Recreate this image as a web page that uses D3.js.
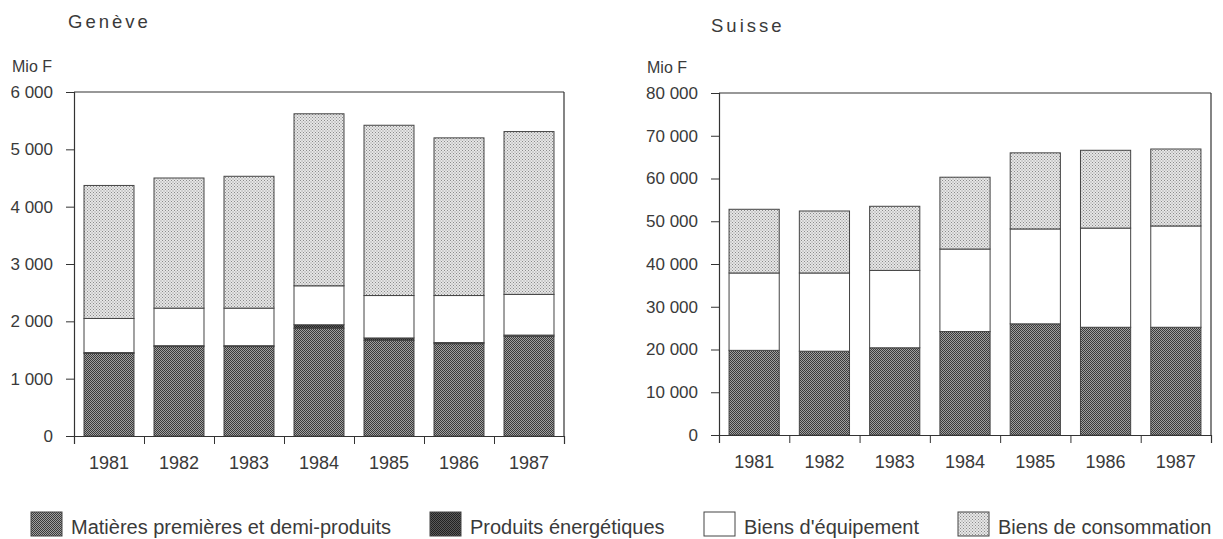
<!DOCTYPE html>
<html><head><meta charset="utf-8">
<script src="https://cdn.jsdelivr.net/npm/d3@7"></script>
<style>
body{margin:0;background:#fff;}
svg{display:block;font-family:"Liberation Sans",Arial,Helvetica,sans-serif;}
</style></head>
<body>
<svg id="c" width="1223" height="539"></svg>
<script>
const years = ["1981","1982","1983","1984","1985","1986","1987"];
const seriesKeys = ["mat","energy","equip","cons"];
const seriesNames = ["Matières premières et demi-produits","Produits énergétiques","Biens d'équipement","Biens de consommation"];

// Genève (Mio F)
const geMat    = [1440, 1560, 1560, 1880, 1670, 1610, 1740];
const geEnergy = [15, 15, 15, 60, 40, 20, 20];
const geEquip  = [595, 655, 655, 680, 740, 820, 710];
const geCons   = [2320, 2270, 2300, 3000, 2970, 2750, 2840];
const geTicks  = [0,1000,2000,3000,4000,5000,6000];

// Suisse (Mio F)
const chMat    = [19800, 19600, 20400, 24200, 26000, 25200, 25200];
const chEnergy = [0, 0, 0, 0, 0, 0, 0];
const chEquip  = [18100, 18300, 18100, 19300, 22200, 23200, 23700];
const chCons   = [14900, 14500, 15000, 16800, 17800, 18200, 18000];
const chTicks  = [0,10000,20000,30000,40000,50000,60000,70000,80000];

const svg = d3.select("#c");
const defs = svg.append("defs");
function dotPattern(id, bg, fg, size){
  const p = defs.append("pattern").attr("id",id).attr("patternUnits","userSpaceOnUse")
    .attr("width",size).attr("height",size);
  p.append("rect").attr("width",size).attr("height",size).attr("fill",bg);
  p.append("rect").attr("x",0).attr("y",0).attr("width",1).attr("height",1).attr("fill",fg);
  p.append("rect").attr("x",size/2).attr("y",size/2).attr("width",1).attr("height",1).attr("fill",fg);
}
dotPattern("pMat","#a0a0a0","#3a3a3a",2);
dotPattern("pEnergy","#5a5a5a","#222",2);
dotPattern("pCons","#e6e6e6","#8a8a8a",3);
const fills = {mat:"url(#pMat)",energy:"url(#pEnergy)",equip:"#ffffff",cons:"url(#pCons)"};
const textCol = "#3a3a3a";
const fmt = v => d3.format(",")(v).replace(/,/g," ");

function drawPanel(cfg){
  const g = svg.append("g");
  const rows = years.map((y,i)=>({year:y, mat:cfg.mat[i], energy:cfg.energy[i], equip:cfg.equip[i], cons:cfg.cons[i]}));
  const stack = d3.stack().keys(seriesKeys)(rows);
  const x = d3.scaleBand().domain(years).range([cfg.x0,cfg.x1]).paddingInner(0.286).paddingOuter(0.143);
  const y = d3.scaleLinear().domain([0,cfg.max]).range([cfg.y0,cfg.y1]);

  g.append("line").attr("x1",cfg.x0).attr("x2",cfg.x1).attr("y1",y(cfg.max)).attr("y2",y(cfg.max)).attr("stroke","#333").attr("stroke-width",1.2);
  g.append("line").attr("x1",cfg.x1).attr("x2",cfg.x1).attr("y1",y(cfg.max)).attr("y2",y(0)).attr("stroke","#333").attr("stroke-width",1.2);

  stack.forEach(s=>{
    g.append("g").selectAll("rect").data(s.filter(d=>d[1]-d[0]>0)).join("rect")
      .attr("x",d=>x(d.data.year)).attr("width",x.bandwidth())
      .attr("y",d=>y(d[1])).attr("height",d=>y(d[0])-y(d[1]))
      .attr("fill",fills[s.key]).attr("stroke","#444").attr("stroke-width",1);
  });

  const ya = g.append("g").attr("transform",`translate(${cfg.x0},0)`)
    .call(d3.axisLeft(y).tickValues(cfg.ticks).tickFormat(fmt).tickSize(8).tickPadding(13));
  ya.select(".domain").attr("stroke","#333").attr("stroke-width",1.2);
  ya.selectAll(".tick line").attr("stroke","#333");
  ya.selectAll("text").attr("font-size",17).attr("fill",textCol).attr("font-family","Liberation Sans, Arial, sans-serif");

  const bounds = d3.range(years.length+1).map(i=>cfg.x0 + i*x.step());
  const bx = d3.scaleLinear().domain([cfg.x0,cfg.x1]).range([cfg.x0,cfg.x1]);
  const xa = g.append("g").attr("transform",`translate(0,${cfg.y0})`)
    .call(d3.axisBottom(bx).tickValues(bounds).tickFormat("").tickSize(8));
  xa.select(".domain").attr("stroke","#333").attr("stroke-width",1.2);
  xa.selectAll(".tick line").attr("stroke","#333");
  const xl = g.append("g").attr("transform",`translate(0,${cfg.y0})`)
    .call(d3.axisBottom(x).tickSize(0).tickPadding(20));
  xl.select(".domain").remove();
  xl.selectAll("text").attr("font-size",18).attr("fill",textCol).attr("font-family","Liberation Sans, Arial, sans-serif");

  g.append("text").attr("x",cfg.titleX).attr("y",cfg.titleY).text(cfg.title)
    .attr("font-size",18.5).attr("letter-spacing",3).attr("fill",textCol);
  g.append("text").attr("x",cfg.unitX).attr("y",cfg.unitY).text("Mio F")
    .attr("font-size",16).attr("fill",textCol);
}

drawPanel({title:"Genève",titleX:68,titleY:28,unitX:12,unitY:72,x0:74,x1:564,y0:436,y1:92,max:6000,ticks:geTicks,
  mat:geMat,energy:geEnergy,equip:geEquip,cons:geCons});
drawPanel({title:"Suisse",titleX:711,titleY:32,unitX:647,unitY:73,x0:719,x1:1211,y0:435,y1:93,max:80000,ticks:chTicks,
  mat:chMat,energy:chEnergy,equip:chEquip,cons:chCons});

const legX = [31, 430, 704, 958];
const lg = svg.append("g");
seriesKeys.forEach((k,i)=>{
  lg.append("rect").attr("x",legX[i]).attr("y",512).attr("width",31).attr("height",24)
    .attr("fill",fills[k]).attr("stroke","#444").attr("stroke-width",1);
  lg.append("text").attr("x",legX[i]+40).attr("y",534).text(seriesNames[i])
    .attr("font-size",20).attr("fill",textCol);
});
</script>
</body></html>
